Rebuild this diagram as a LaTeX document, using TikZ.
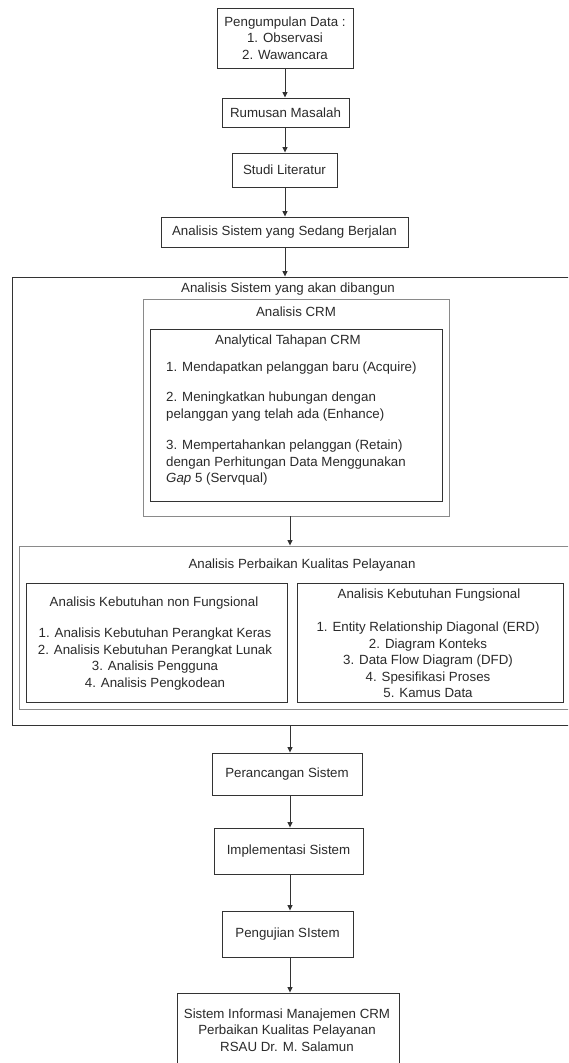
\documentclass[tikz,border=0pt]{standalone}
\usepackage{fontspec}
\setmainfont{Liberation Sans}
\usetikzlibrary{arrows.meta}
\definecolor{ink}{HTML}{2A2A2A}
\definecolor{frame}{HTML}{333333}
\definecolor{softframe}{HTML}{8A8A8A}
\tikzset{
  box/.style={draw=frame, line width=0.9pt, inner sep=0pt, fill=white},
  softbox/.style={draw=softframe, line width=0.9pt, inner sep=0pt},
  txt/.style={text=ink, inner sep=0pt, font=\fontsize{13.3}{16.5}\selectfont},
  arr/.style={draw=frame, line width=0.9pt, -{Triangle[length=5.5pt,width=5pt]}},
}
\begin{document}
\begin{tikzpicture}[x=1pt,y=-1pt]
\path[use as bounding box, clip] (0,0) rectangle (568,1063);
\fill[white] (0,0) rectangle (568,1063);

% top flow
\node[box, txt, minimum width=136, minimum height=60, align=center] (data) at (285,38)
  {Pengumpulan Data :\\1. Observasi\\2. Wawancara};
\node[box, txt, minimum width=127, minimum height=29] (rumusan) at (285.5,112.5) {Rumusan Masalah};
\node[box, txt, minimum width=105, minimum height=34] (studi) at (284.5,170) {Studi Literatur};
\node[box, txt, minimum width=247, minimum height=30] (berjalan) at (284.5,232) {Analisis Sistem yang Sedang Berjalan};

% outer container
\node[box, minimum width=588, minimum height=448] (outer) at (306,501) {};
\node[txt] (outertitle) at (288,289.5) {Analisis Sistem yang akan dibangun};

% CRM
\node[softbox, minimum width=306, minimum height=217] (crm) at (296,407.5) {};
\node[txt] (crmtitle) at (296,312) {Analisis CRM};
\node[box, minimum width=292, minimum height=172] (analytical) at (296,415) {};
\node[txt] (antitle) at (288,341.5) {Analytical Tahapan CRM};
\node[txt, anchor=west] (it1) at (166,368) {1. Mendapatkan pelanggan baru (Acquire)};
\node[txt, anchor=north west, align=left] (it2) at (166,392)
  {2. Meningkatkan hubungan dengan\\pelanggan yang telah ada (Enhance)};
\node[txt, anchor=north west, align=left] (it3) at (166,440)
  {3. Mempertahankan pelanggan (Retain)\\dengan Perhitungan Data Menggunakan\\\textit{Gap} 5 (Servqual)};

% Perbaikan
\node[softbox, minimum width=581, minimum height=163] (perbaikan) at (309.5,627.5) {};
\node[txt] (pertitle) at (302,565.5) {Analisis Perbaikan Kualitas Pelayanan};
\node[box, minimum width=261, minimum height=119] (nonfung) at (156.5,642.5) {};
\node[txt] (nftitle) at (154,603.5) {Analisis Kebutuhan non Fungsional};
\node[txt, anchor=north, align=center] (nfitems) at (155,628)
  {1. Analisis Kebutuhan Perangkat Keras\\2. Analisis Kebutuhan Perangkat Lunak\\3. Analisis Pengguna\\4. Analisis Pengkodean};
\node[box, minimum width=266, minimum height=119] (fung) at (430,642.5) {};
\node[txt] (ftitle) at (429,595.5) {Analisis Kebutuhan Fungsional};
\node[txt, anchor=north, align=center] (fitems) at (428,622)
  {1. Entity Relationship Diagonal (ERD)\\2. Diagram Konteks\\3. Data Flow Diagram (DFD)\\4. Spesifikasi Proses\\5. Kamus Data};

% bottom flow
\node[box, txt, minimum width=150, minimum height=42] (perancangan) at (287,774) {Perancangan Sistem};
\node[box, txt, minimum width=149, minimum height=46] (implementasi) at (288.5,851) {Implementasi Sistem};
\node[box, txt, minimum width=131, minimum height=46] (pengujian) at (287.5,934) {Pengujian SIstem};
\node[box, minimum width=222, minimum height=82] (final) at (288,1034) {};
\node[txt, anchor=north, align=center] (finaltext) at (287,1008.5)
  {Sistem Informasi Manajemen CRM\\Perbaikan Kualitas Pelayanan\\RSAU Dr. M. Salamun};

% connectors
\draw[arr] (data.south) -- (data.south |- rumusan.north);
\draw[arr] (rumusan.south -| data.south) -- (data.south |- studi.north);
\draw[arr] (studi.south -| data.south) -- (data.south |- berjalan.north);
\draw[arr] (berjalan.south -| data.south) -- (data.south |- outer.north);
\coordinate (crmx) at (290,0);
\draw[arr] (crm.south -| crmx) -- (crmx |- perbaikan.north);
\draw[arr] (outer.south -| crmx) -- (crmx |- perancangan.north);
\draw[arr] (perancangan.south -| crmx) -- (crmx |- implementasi.north);
\draw[arr] (implementasi.south -| crmx) -- (crmx |- pengujian.north);
\draw[arr] (pengujian.south -| crmx) -- (crmx |- final.north);
\end{tikzpicture}
\end{document}
